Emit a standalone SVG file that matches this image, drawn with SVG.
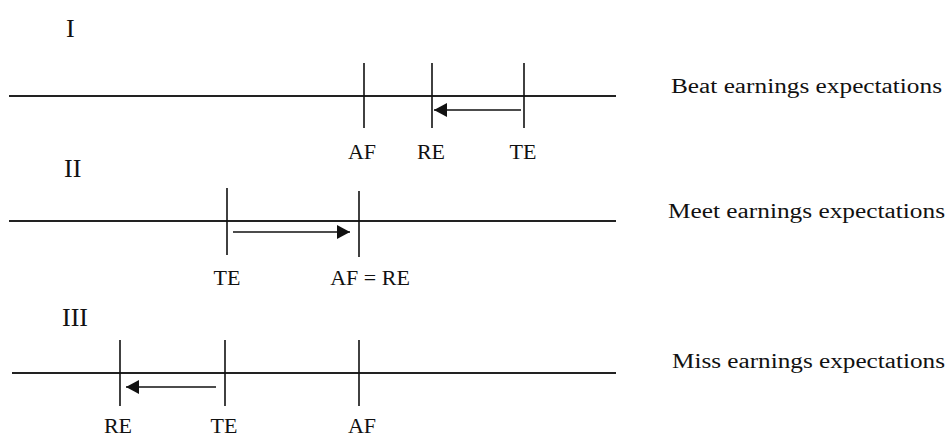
<svg xmlns="http://www.w3.org/2000/svg" width="947" height="437" viewBox="0 0 947 437">
<style>
text{font-family:'Liberation Serif','Times New Roman',Times,serif;font-size:20px;fill:#111}
.mid{text-anchor:middle;font-size:22px}
.num{font-size:26px}
.axis{stroke:#222;stroke-width:2;fill:none}
.tick{stroke:#111;stroke-width:1.6;fill:none}
.arr{stroke:#111;stroke-width:1.6;fill:none;marker-end:url(#ah)}
</style>
<defs>
<marker id="ah" markerUnits="userSpaceOnUse" markerWidth="16" markerHeight="14" refX="13" refY="7" orient="auto">
<path d="M0,0 L13,7 L0,14 Z" fill="#111"/>
</marker>
</defs>
<rect width="947" height="437" fill="#fff"/>
<g id="panel-I">
<text class="num" x="66" y="37">I</text>
<line class="axis" x1="9" y1="96" x2="616" y2="96"/>
<line class="tick" x1="364" y1="63" x2="364" y2="128"/>
<line class="tick" x1="432" y1="63" x2="432" y2="128"/>
<line class="tick" x1="524" y1="63" x2="524" y2="128"/>
<text class="mid" x="362" y="159">AF</text>
<text class="mid" x="431" y="159">RE</text>
<text class="mid" x="523" y="159">TE</text>
<text x="671" y="93" textLength="271" lengthAdjust="spacingAndGlyphs">Beat earnings expectations</text>
</g>
<g id="panel-II">
<text class="num" x="64" y="177">II</text>
<line class="axis" x1="9" y1="221" x2="616" y2="221"/>
<line class="tick" x1="227" y1="188" x2="227" y2="255"/>
<line class="tick" x1="359" y1="191" x2="359" y2="257"/>
<text class="mid" x="227" y="285">TE</text>
<text class="mid" x="370" y="285">AF = RE</text>
<text x="668" y="218" textLength="277" lengthAdjust="spacingAndGlyphs">Meet earnings expectations</text>
</g>
<g id="panel-III">
<text class="num" x="62" y="326">III</text>
<line class="axis" x1="12" y1="373" x2="616" y2="373"/>
<line class="tick" x1="120" y1="340" x2="120" y2="406"/>
<line class="tick" x1="225" y1="340" x2="225" y2="406"/>
<line class="tick" x1="359" y1="340" x2="359" y2="406"/>
<text class="mid" x="118" y="433">RE</text>
<text class="mid" x="224" y="433">TE</text>
<text class="mid" x="362" y="433">AF</text>
<text x="672" y="368" textLength="273" lengthAdjust="spacingAndGlyphs">Miss earnings expectations</text>
</g>
<g id="connectors">
<line class="arr" x1="521" y1="110" x2="434" y2="110"/>
<line class="arr" x1="233" y1="232" x2="350" y2="232"/>
<line class="arr" x1="216" y1="387" x2="126" y2="387"/>
</g>
</svg>
